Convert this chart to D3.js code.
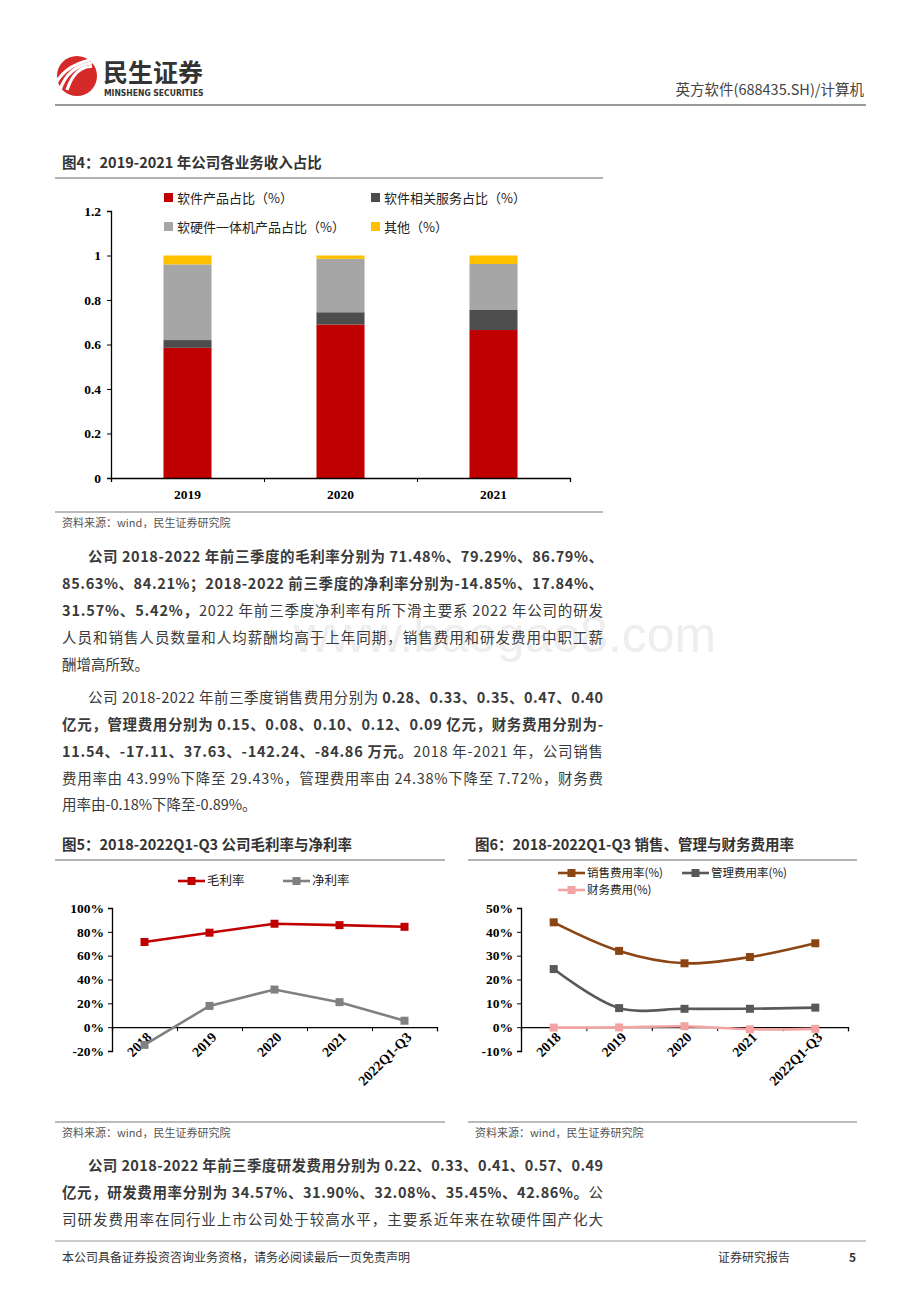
<!DOCTYPE html>
<html><head><meta charset="utf-8">
<script src="https://cdn.jsdelivr.net/npm/d3@7"></script>
<style>body{margin:0;background:#fff}svg{display:block}</style>
</head><body>
<svg id="page" width="920" height="1302"></svg>
<script>
// ---- data ----
const years4 = ["2019", "2020", "2021"];
const product = [0.585, 0.69, 0.665];
const service = [0.035, 0.055, 0.09];
const hardware = [0.34, 0.24, 0.207];
const other = [0.04, 0.015, 0.038];
const ticks4 = [0, 0.2, 0.4, 0.6, 0.8, 1, 1.2];

const years5 = ["2018", "2019", "2020", "2021", "2022Q1-Q3"];
const gross = [71.48, 79.29, 86.79, 85.63, 84.21];
const net = [-14.85, 17.84, 31.57, 21.0, 5.42];
const ticks5 = [-20, 0, 20, 40, 60, 80, 100];

const sales = [43.99, 32.0, 26.8, 29.43, 35.2];
const admin = [24.38, 8.0, 7.7, 7.72, 8.2];
const fin = [-0.18, -0.1, 0.4, -0.89, -0.7];
const ticks6 = [-10, 0, 10, 20, 30, 40, 50];

const CJK = "'Noto Sans CJK SC','Noto Sans',sans-serif";
const SERIF = "'Liberation Serif','DejaVu Serif',serif";
const TXT = "#3a3a3a";
const svg = d3.select("#page");

// ---- header ----
const logo = svg.append("g");
logo.append("circle").attr("cx", 77).attr("cy", 76).attr("r", 20).attr("fill", "#d42a2a");
[-9, -2, 5].forEach(dx => {
  logo.append("path").attr("d", `M${62 + dx},${90} Q${70 + dx},${66} ${92},${64 + dx / 2}`)
    .attr("stroke", "#fff").attr("stroke-width", 3.2).attr("fill", "none");
});
svg.append("text").attr("x", 103).attr("y", 82).text("民生证券")
  .style("font-family", CJK).style("font-weight", 700).style("font-size", "25px").attr("fill", "#333");
svg.append("text").attr("x", 104).attr("y", 96).text("MINSHENG SECURITIES")
  .style("font-family", "'DejaVu Sans Condensed','DejaVu Sans'").style("font-weight", 700).style("font-size", "8.5px").attr("fill", "#333");
svg.append("text").attr("x", 864).attr("y", 95).attr("text-anchor", "end").text("英方软件(688435.SH)/计算机")
  .style("font-family", CJK).style("font-size", "14.5px").attr("fill", "#444");
svg.append("line").attr("x1", 55).attr("x2", 866).attr("y1", 105).attr("y2", 105).attr("stroke", "#999").attr("stroke-width", 2);

// watermark (behind the text, as in the scan)
svg.append("text").attr("x", 505).attr("y", 652).attr("text-anchor", "middle").text("www.baogao8.com")
  .style("font-family", "'Liberation Sans',sans-serif").style("font-size", "50px").attr("fill", "#eeeeee");

function title(x, y, x2, s) {
  svg.append("text").attr("x", x).attr("y", y).text(s)
    .style("font-family", CJK).style("font-weight", 700).style("font-size", "14.5px").attr("fill", "#333");
  svg.append("line").attr("x1", x - 7).attr("x2", x2).attr("y1", y + 10).attr("y2", y + 10).attr("stroke", "#666").attr("stroke-width", 1.2);
}
function source(x, y, x2) {
  svg.append("line").attr("x1", x - 7).attr("x2", x2).attr("y1", y - 15).attr("y2", y - 15).attr("stroke", "#777").attr("stroke-width", 1);
  svg.append("text").attr("x", x).attr("y", y).text("资料来源：wind，民生证券研究院")
    .style("font-family", CJK).style("font-size", "11px").attr("fill", "#555");
}

// ---- Fig 4 ----
title(62, 168, 603, "图4：2019-2021 年公司各业务收入占比");
{
  const g = svg.append("g");
  const x = d3.scaleBand().domain(years4).range([111, 570]).paddingInner(0.686).paddingOuter(0.343);
  const y = d3.scaleLinear().domain([0, 1.2]).range([478, 211]);
  const series = [
    { name: "软件产品占比（%）", vals: product, color: "#c00000" },
    { name: "软件相关服务占比（%）", vals: service, color: "#4d4d4d" },
    { name: "软硬件一体机产品占比（%）", vals: hardware, color: "#a6a6a6" },
    { name: "其他（%）", vals: other, color: "#ffc000" }
  ];
  const table = years4.map((yr, i) => { const o = { yr }; series.forEach(s => o[s.name] = s.vals[i]); return o; });
  const stack = d3.stack().keys(series.map(s => s.name))(table);
  stack.forEach((layer, li) => {
    g.selectAll(null).data(layer).enter().append("rect")
      .attr("x", d => x(d.data.yr)).attr("width", x.bandwidth())
      .attr("y", d => y(d[1])).attr("height", d => y(d[0]) - y(d[1]))
      .attr("fill", series[li].color);
  });
  const ya = g.append("g").attr("transform", "translate(111,0)")
    .call(d3.axisLeft(y).tickValues(ticks4).tickSize(4).tickFormat(d3.format("")));
  const xa = g.append("g").attr("transform", "translate(0,478)")
    .call(d3.axisBottom(d3.scaleLinear().domain([0, 3]).range([111, 570])).ticks(3).tickSize(4).tickFormat(""));
  g.selectAll(null).data(years4).enter().append("text")
    .attr("x", d => x(d) + x.bandwidth() / 2).attr("y", 499).attr("text-anchor", "middle").text(d => d)
    .style("font-family", SERIF).style("font-weight", 700).style("font-size", "13.5px");
  [ya, xa].forEach(a => { a.select(".domain").attr("stroke", "#000").attr("stroke-width", 1.3); a.selectAll("line").attr("stroke", "#000"); });
  ya.selectAll("text").style("font-family", SERIF).style("font-weight", 700).style("font-size", "13.5px").attr("fill", "#000").attr("x", -10);
  const pos = [[164, 198], [371, 198], [164, 227], [371, 227]];
  series.forEach((s, i) => {
    g.append("rect").attr("x", pos[i][0]).attr("y", pos[i][1] - 5).attr("width", 9).attr("height", 9).attr("fill", s.color);
    g.append("text").attr("x", pos[i][0] + 13).attr("y", pos[i][1] + 4.5).text(s.name)
      .style("font-family", CJK).style("font-size", "13px").attr("fill", "#222");
  });
}
source(62, 527, 603);

// ---- paragraphs ----
function para(x, y, segs, right) {
  const t = svg.append("text").attr("x", x).attr("y", y)
    .style("font-family", CJK).style("font-size", "14.5px").attr("fill", TXT);
  if (right) t.attr("textLength", right - x).attr("lengthAdjust", "spacing");
  segs.forEach(([s, b]) => t.append("tspan").text(s).style("font-weight", b ? 700 : 400));
}
const R = 603;
para(88, 562, [["公司 2018-2022 年前三季度的毛利率分别为 71.48%、79.29%、86.79%、", 1]], R);
para(62, 589, [["85.63%、84.21%；2018-2022 前三季度的净利率分别为-14.85%、17.84%、", 1]], R);
para(62, 616, [["31.57%、5.42%，", 1], ["2022 年前三季度净利率有所下滑主要系 2022 年公司的研发", 0]], R);
para(62, 643, [["人员和销售人员数量和人均薪酬均高于上年同期，销售费用和研发费用中职工薪", 0]], R);
para(62, 670, [["酬增高所致。", 0]]);
para(88, 703, [["公司 2018-2022 年前三季度销售费用分别为 ", 0], ["0.28、0.33、0.35、0.47、0.40", 1]], R);
para(62, 730, [["亿元，管理费用分别为 0.15、0.08、0.10、0.12、0.09 亿元，财务费用分别为-", 1]], R);
para(62, 757, [["11.54、-17.11、37.63、-142.24、-84.86 万元。", 1], ["2018 年-2021 年，公司销售", 0]], R);
para(62, 784, [["费用率由 43.99%下降至 29.43%，管理费用率由 24.38%下降至 7.72%，财务费", 0]], R);
para(62, 810, [["用率由-0.18%下降至-0.89%。", 0]]);

// ---- line chart helper ----
function lineChart(o) {
  const g = svg.append("g");
  const x = d3.scaleBand().domain(years5).range([o.x0, o.x1]);
  const y = d3.scaleLinear().domain(o.dom).range([1051, 908]);
  const cx = d => x(d) + x.bandwidth() / 2;
  const ya = g.append("g").attr("transform", `translate(${o.x0},0)`)
    .call(d3.axisLeft(y).tickValues(o.ticks).tickSize(4).tickFormat(d => d + "%"));
  const xa = g.append("g").attr("transform", `translate(0,${y(0)})`)
    .call(d3.axisBottom(d3.scaleLinear().domain([0, 5]).range([o.x0, o.x1])).ticks(5).tickSize(4).tickFormat(""));
  [ya, xa].forEach(a => { a.select(".domain").attr("stroke", "#000").attr("stroke-width", 1.3); a.selectAll("line").attr("stroke", "#000"); });
  ya.selectAll("text").style("font-family", SERIF).style("font-weight", 700).style("font-size", "13.5px").attr("fill", "#000").attr("x", -8);
  g.selectAll(null).data(years5).enter().append("text")
    .attr("transform", d => `translate(${cx(d) + 8},${1038}) rotate(-45)`)
    .attr("text-anchor", "end").text(d => d)
    .style("font-family", SERIF).style("font-weight", 700).style("font-size", "14px");
  o.series.forEach(s => {
    const line = d3.line().x((d, i) => cx(years5[i])).y(d => y(d)).curve(o.curve);
    g.append("path").attr("d", line(s.vals)).attr("fill", "none").attr("stroke", s.color).attr("stroke-width", 2.6);
    g.selectAll(null).data(s.vals).enter().append("rect")
      .attr("x", (d, i) => cx(years5[i]) - 4).attr("y", d => y(d) - 4).attr("width", 8).attr("height", 8)
      .attr("fill", s.color);
    g.append("line").attr("x1", s.lx).attr("x2", s.lx + 27).attr("y1", s.ly).attr("y2", s.ly).attr("stroke", s.color).attr("stroke-width", 2.6);
    g.append("rect").attr("x", s.lx + 9.5).attr("y", s.ly - 4).attr("width", 8).attr("height", 8).attr("fill", s.color);
    g.append("text").attr("x", s.lx + 29).attr("y", s.ly + 4).text(s.name)
      .style("font-family", CJK).style("font-size", o.legendSize).attr("fill", "#222");
  });
}

title(62, 850, 445, "图5：2018-2022Q1-Q3 公司毛利率与净利率");
lineChart({
  x0: 112, x1: 437, dom: [-20, 100], ticks: ticks5, curve: d3.curveLinear, legendSize: "12.5px",
  series: [
    { name: "毛利率", vals: gross, color: "#c00000", lx: 178, ly: 881 },
    { name: "净利率", vals: net, color: "#808080", lx: 283, ly: 881 }
  ]
});
title(475, 850, 857, "图6：2018-2022Q1-Q3 销售、管理与财务费用率");
lineChart({
  x0: 521, x1: 848, dom: [-10, 50], ticks: ticks6, curve: d3.curveCatmullRom, legendSize: "11.5px",
  series: [
    { name: "销售费用率(%)", vals: sales, color: "#8b4513", lx: 558, ly: 873 },
    { name: "管理费用率(%)", vals: admin, color: "#595959", lx: 682, ly: 873 },
    { name: "财务费用(%)", vals: fin, color: "#f4a3a3", lx: 558, ly: 890 }
  ]
});
source(62, 1137, 445);
source(475, 1137, 857);

para(88, 1171, [["公司 2018-2022 年前三季度研发费用分别为 0.22、0.33、0.41、0.57、0.49", 1]], R);
para(62, 1198, [["亿元，研发费用率分别为 34.57%、31.90%、32.08%、35.45%、42.86%。", 1], ["公", 0]], R);
para(62, 1225, [["司研发费用率在同行业上市公司处于较高水平，主要系近年来在软硬件国产化大", 0]], R);

// footer
svg.append("line").attr("x1", 55).attr("x2", 866).attr("y1", 1241).attr("y2", 1241).attr("stroke", "#999").attr("stroke-width", 1);
[["本公司具备证券投资咨询业务资格，请务必阅读最后一页免责声明", 62, "start"], ["证券研究报告", 790, "end"], ["5", 856, "end"]]
  .forEach(([s, xx, a]) => svg.append("text").attr("x", xx).attr("y", 1262).attr("text-anchor", a).text(s)
    .style("font-family", CJK).style("font-size", "12px").style("font-weight", s === "5" ? 700 : 400).attr("fill", "#333"));
</script>
</body></html>
